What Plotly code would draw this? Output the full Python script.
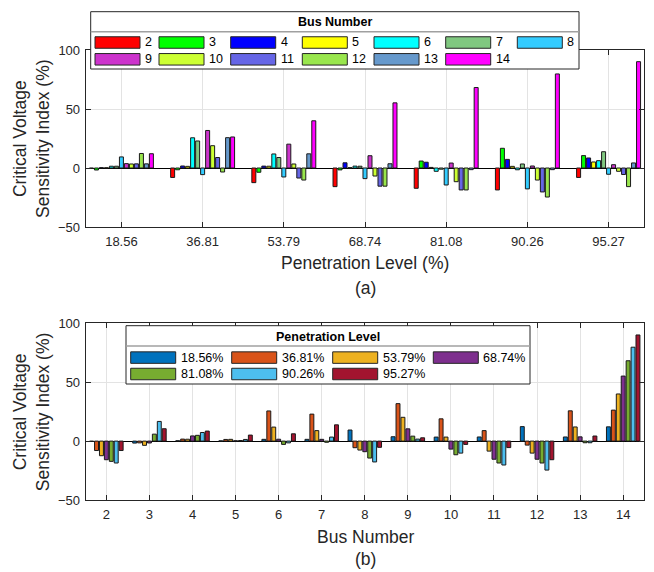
import plotly.graph_objects as go

# ---------------- data ----------------
levels = ["18.56", "36.81", "53.79", "68.74", "81.08", "90.26", "95.27"]
level_labels = ["18.56%", "36.81%", "53.79%", "68.74%", "81.08%", "90.26%", "95.27%"]
buses = ["2", "3", "4", "5", "6", "7", "8", "9", "10", "11", "12", "13", "14"]

# sensitivity index (%) of each bus at the seven penetration levels
bus2 = [-0.3, -8.0, -12.4, -15.8, -17.2, -18.6, -8.0]
bus3 = [-1.7, -1.5, -3.6, -1.6, 5.9, 16.7, 10.5]
bus4 = [0.3, 1.7, 1.6, 4.4, 4.9, 7.3, 8.5]
bus5 = [0.2, 1.4, 1.5, 0.3, 0.5, 1.4, 5.1]
bus6 = [1.5, 25.6, 11.9, 1.6, -2.8, -1.5, 6.2]
bus7 = [1.5, 22.9, 8.9, 1.5, -1.0, 3.4, 13.8]
bus8 = [9.4, -5.6, -7.6, -9.0, -14.4, -17.7, -5.3]
bus9 = [3.7, 31.8, 20.2, 10.4, 4.2, 1.7, 2.8]
bus10 = [3.4, 18.9, 3.4, -6.8, -11.6, -10.2, -2.8]
bus11 = [3.5, 8.9, -8.5, -15.4, -18.6, -20.3, -5.5]
bus12 = [12.3, -3.4, -10.2, -15.4, -18.6, -24.6, -15.8]
bus13 = [3.5, 25.7, 12.0, 3.6, -1.4, -1.4, 4.3]
bus14 = [12.1, 26.3, 40.0, 55.2, 68.2, 79.7, 90.1]

series = [bus2, bus3, bus4, bus5, bus6, bus7, bus8, bus9, bus10, bus11, bus12, bus13, bus14]

bus_colors = ["#FF0000", "#00FF00", "#0000FF", "#FFFF00", "#00FFFF", "#80C880", "#33CCFF",
              "#CC33CC", "#CCFF33", "#6666E6", "#99E64D", "#6699CC", "#FF00FF"]
level_colors = ["#0072BD", "#D95319", "#EDB120", "#7E2F8E", "#77AC30", "#4DBEEE", "#A2142F"]

# ---------------- layout helpers ----------------
W, H = 654, 572
def px(x):
    return x / W
def py(y):
    return 1 - y / H

FONT = "Arial, Liberation Sans, sans-serif"
TXT = "#262626"
GRID = "#E3E3E3"

fig = go.Figure()

# top chart: grouped by penetration level, one series per bus
for b, vals, col in zip(buses, series, bus_colors):
    fig.add_trace(go.Bar(x=levels, y=vals, name=b, marker=dict(color=col, line=dict(color="#1a1a1a", width=1)),
                         xaxis="x", yaxis="y", showlegend=False))

# bottom chart: grouped by bus, one series per penetration level
for i, (lab, col) in enumerate(zip(level_labels, level_colors)):
    fig.add_trace(go.Bar(x=buses, y=[s[i] for s in series], name=lab,
                         marker=dict(color=col, line=dict(color="#1a1a1a", width=1)),
                         xaxis="x2", yaxis="y2", showlegend=False))

xdom = [px(85.7), px(644.3)]
axis_common = dict(showline=True, linecolor=TXT, linewidth=1, mirror="ticks", ticks="inside",
                   ticklen=5, tickcolor=TXT, showgrid=True, gridcolor=GRID, gridwidth=1,
                   automargin=False,
                   tickfont=dict(family=FONT, size=13, color=TXT))

fig.update_layout(
    template="none",
    width=W, height=H, margin=dict(l=0, r=0, t=0, b=0, autoexpand=False),
    paper_bgcolor="white", plot_bgcolor="white", showlegend=False,
    barmode="group", bargap=0.2, bargroupgap=0.2,
    xaxis=dict(domain=xdom, anchor="y", type="category", range=[-0.44, 6.44],
               ticklabelstandoff=2, **axis_common),
    yaxis=dict(domain=[py(227), py(50)], anchor="x", range=[-50, 100], tickvals=[-50, 0, 50, 100],
               zeroline=True, zerolinecolor="#000000", zerolinewidth=1, ticklabelstandoff=2, **axis_common),
    xaxis2=dict(domain=xdom, anchor="y2", type="category", range=[-0.48, 12.49],
                ticklabelstandoff=2, **axis_common),
    yaxis2=dict(domain=[py(500), py(323.3)], anchor="x2", range=[-50, 100], tickvals=[-50, 0, 50, 100],
                zeroline=True, zerolinecolor="#000000", zerolinewidth=1, ticklabelstandoff=2, **axis_common),
)

annotations = []
shapes = []

def text(x, y, s, size, **kw):
    d = dict(x=px(x), y=py(y), xref="paper", yref="paper", text=s, showarrow=False,
             font=dict(family=FONT, size=size, color=kw.pop("color", TXT)),
             xanchor=kw.pop("xanchor", "center"), yanchor=kw.pop("yanchor", "middle"))
    d.update(kw)
    annotations.append(d)

# axis titles
text(365, 263, "Penetration Level (%)", 17.5)
text(365, 288, "(a)", 17.5)
text(365, 537, "Bus Number", 17.5)
text(365, 559, "(b)", 17.5)
text(31.5, 138.5, "Critical Voltage<br>Sensitivity Index (%)", 17.5, textangle=-90)
text(31.5, 411.7, "Critical Voltage<br>Sensitivity Index (%)", 17.5, textangle=-90)

def legend_box(x0, y0, x1, y1, ysep, title, ytitle):
    shapes.append(dict(type="rect", xref="paper", yref="paper", x0=px(x0), x1=px(x1), y0=py(y1), y1=py(y0),
                       fillcolor="white", line=dict(color=TXT, width=1), layer="above"))
    shapes.append(dict(type="line", xref="paper", yref="paper", x0=px(x0), x1=px(x1), y0=py(ysep), y1=py(ysep),
                       line=dict(color="#A0A0A0", width=1.5), layer="above"))
    text((x0 + x1) / 2, ytitle, "<b>" + title + "</b>", 12.5, color="#000000")

def swatch(x, yc, w, h, col, label):
    shapes.append(dict(type="rect", xref="paper", yref="paper", x0=px(x), x1=px(x + w),
                       y0=py(yc + h / 2), y1=py(yc - h / 2), fillcolor=col,
                       line=dict(color="#262626", width=1), layer="above"))
    text(x + w + 3, yc, label, 12.5, color="#000000", xanchor="left")

# top legend: Bus Number
legend_box(90.7, 11.7, 579, 69, 31.7, "Bus Number", 22.3)
top_cols = [95, 159, 230.7, 302.3, 374, 445.7, 517.3]
top_rows = [42.5, 59.3]
for k, (b, col) in enumerate(zip(buses, bus_colors)):
    r, c = divmod(k, 7)
    swatch(top_cols[c], top_rows[r], 45, 11.5, col, b)

# bottom legend: Penetration Level
legend_box(126, 325.7, 530, 384, 346, "Penetration Level", 337.3)
bot_cols = [130.7, 231.7, 332.7, 433.3]
bot_rows = [357.6, 374.0]
for k, (lab, col) in enumerate(zip(level_labels, level_colors)):
    r, c = divmod(k, 4)
    swatch(bot_cols[c], bot_rows[r], 45, 11.5, col, lab)

fig.update_layout(annotations=annotations, shapes=shapes)
fig.write_html("out.html", config={"displayModeBar": False},
               post_script="document.body.style.margin='0';document.body.style.padding='0';")
